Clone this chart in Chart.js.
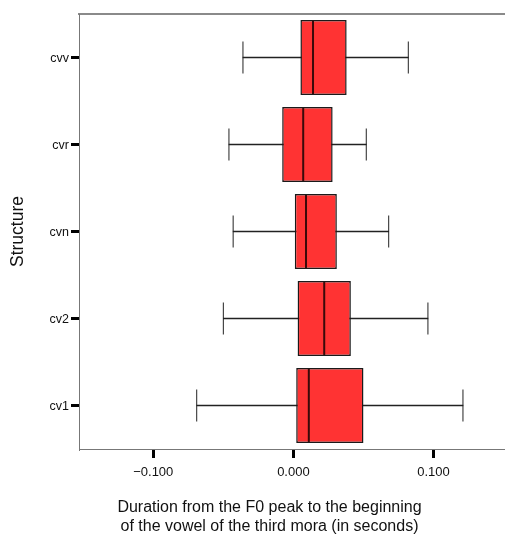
<!DOCTYPE html>
<html>
<head>
<meta charset="utf-8">
<script src="https://cdn.jsdelivr.net/npm/chart.js@4/dist/chart.umd.min.js"></script>
<style>
html,body{margin:0;padding:0;background:#fff;}
#wrap{width:505px;height:536px;position:relative;}
</style>
</head>
<body>
<div id="wrap"><canvas id="c" width="505" height="536"></canvas></div>
<script>
const categories = ['cvv', 'cvr', 'cvn', 'cv2', 'cv1'];
const whiskerLow  = [-0.036, -0.046, -0.043, -0.050, -0.069];
const q1          = [ 0.005, -0.008,  0.001,  0.003,  0.002];
const median      = [ 0.014,  0.007,  0.009,  0.022,  0.011];
const q3          = [ 0.038,  0.028,  0.031,  0.041,  0.050];
const whiskerHigh = [ 0.082,  0.052,  0.068,  0.096,  0.121];
const tickValues = [-0.1, 0, 0.1];
const tickLabels = ['\u22120.100', '0.000', '0.100'];
const xTitleLines = ['Duration from the F0 peak to the beginning', 'of the vowel of the third mora (in seconds)'];
const yTitle = 'Structure';

const FONT = 'Arial, "Liberation Sans", Helvetica, sans-serif';

const xTitlePlugin = {
  id: 'xTitle',
  afterDraw(chart) {
    const ctx = chart.ctx;
    ctx.save();
    ctx.fillStyle = '#111';
    ctx.font = '16px ' + FONT;
    ctx.textAlign = 'center';
    ctx.textBaseline = 'alphabetic';
    ctx.fillText(xTitleLines[0], 269.5, 511.5);
    ctx.fillText(xTitleLines[1], 269.5, 531);
    ctx.restore();
  }
};

const capPoints = [];
categories.forEach((c, i) => {
  capPoints.push({x: whiskerLow[i], y: c});
  capPoints.push({x: whiskerHigh[i], y: c});
});

new Chart(document.getElementById('c'), {
  data: {
    labels: categories,
    datasets: [
      {
        type: 'bar',
        label: 'whisker',
        data: categories.map((c, i) => [whiskerLow[i], whiskerHigh[i]]),
        backgroundColor: '#222',
        borderWidth: 0,
        barThickness: 1,
        grouped: false,
        order: 5
      },
      {
        type: 'bar',
        label: 'box',
        data: categories.map((c, i) => [q1[i], q3[i]]),
        backgroundColor: '#ff3333',
        borderColor: '#1a1a1a',
        borderWidth: 1.5,
        borderSkipped: false,
        barPercentage: 0.862,
        categoryPercentage: 1,
        grouped: false,
        order: 4
      },
      {
        type: 'scatter',
        label: 'caps',
        data: capPoints,
        pointStyle: 'line',
        rotation: 90,
        radius: 16,
        hoverRadius: 16,
        borderColor: '#222',
        borderWidth: 1,
        order: 2
      },
      {
        type: 'scatter',
        label: 'median',
        data: categories.map((c, i) => ({x: median[i], y: c})),
        pointStyle: 'line',
        rotation: 90,
        radius: 36.5,
        hoverRadius: 36.5,
        borderColor: '#3a0a0a',
        borderWidth: 2,
        order: 1
      }
    ]
  },
  options: {
    indexAxis: 'y',
    responsive: false,
    animation: false,
    events: [],
    layout: { autoPadding: false, padding: { top: 14, left: 0, right: 0, bottom: 0 } },
    plugins: { legend: { display: false }, tooltip: { enabled: false }, title: { display: false } },
    scales: {
      x: {
        type: 'linear',
        position: 'bottom',
        min: -0.153,
        max: 0.151,
        afterBuildTicks(scale) { scale.ticks = tickValues.map(v => ({ value: v })); },
        afterFit(scale) { scale.height = 87; },
        ticks: {
          color: '#111',
          font: { family: FONT, size: 13 },
          padding: 7,
          maxRotation: 0,
          callback(value, index) { return tickLabels[index]; }
        },
        grid: { drawOnChartArea: false, drawTicks: true, tickLength: 9, lineWidth: 3, color: '#000' },
        border: { display: true, color: '#777', width: 1 }
      },
      x2: {
        type: 'linear',
        position: 'top',
        min: -0.153,
        max: 0.151,
        afterFit(scale) { scale.height = 0; },
        ticks: { display: false },
        grid: { display: false, drawTicks: false },
        border: { display: true, color: '#8a8a8a', width: 2 }
      },
      y: {
        type: 'category',
        position: 'left',
        afterFit(scale) { scale.width = 79; },
        ticks: {
          color: '#111',
          font: { family: FONT, size: 12.5 },
          padding: 2,
          labelOffset: 1.5
        },
        grid: { offset: false, drawOnChartArea: false, drawTicks: true, tickLength: 8, lineWidth: 3, color: '#000' },
        border: { display: true, color: '#777', width: 1 },
        title: {
          display: true,
          text: yTitle,
          color: '#111',
          font: { family: FONT, size: 17.5 },
          padding: { top: 7.5, bottom: 0 }
        }
      }
    }
  },
  plugins: [xTitlePlugin]
});
</script>
</body>
</html>
